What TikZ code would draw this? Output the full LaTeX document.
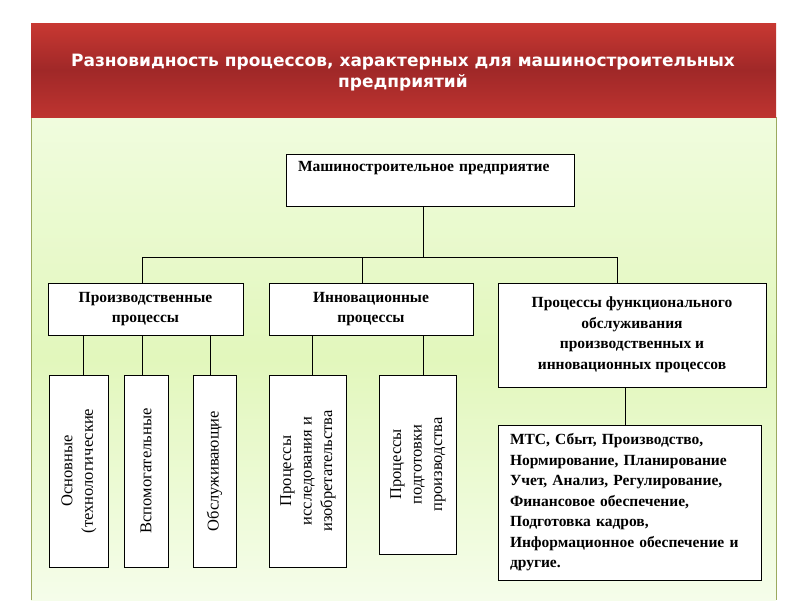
\documentclass[tikz,border=0pt]{standalone}
\usepackage{fontspec}
\usepackage{graphicx}
\setmainfont{Liberation Serif}
\newfontfamily\titlefont{DejaVu Sans}
\definecolor{redtop}{RGB}{200,56,50}
\definecolor{redmid}{RGB}{160,40,40}
\definecolor{redbot}{RGB}{190,52,48}
\definecolor{grtop}{RGB}{240,252,222}
\definecolor{grmid}{RGB}{226,247,188}
\definecolor{grbot}{RGB}{245,253,234}
\definecolor{grline}{RGB}{155,170,95}
\begin{document}
\begin{tikzpicture}[x=1pt,y=-1pt,
  box/.style={draw=black, line width=1pt, fill=white, inner sep=0pt, align=center,
    font=\fontsize{15.5}{20.5}\selectfont\bfseries},
  vbox/.style={draw=black, line width=1pt, fill=white, inner sep=0pt,
    font=\fontsize{16.5}{20.5}\selectfont},
  link/.style={draw=black, line width=1pt}]
\useasboundingbox[fill=white] (0,0) rectangle (800,600);
% header and panel
\shade[top color=grtop, bottom color=grbot, middle color=grmid] (31,117) rectangle (776,600);
\draw[grline, line width=1pt] (31,600) -- (31,117) -- (776,117) -- (776,600);
\shade[top color=redtop, bottom color=redbot, middle color=redmid] (31,23) rectangle (776,117);
\node[font=\titlefont\bfseries\fontsize{17}{21.5}\selectfont, text=white, align=center] (title) at (403,72.5)
  {Разновидность процессов, характерных для машиностроительных\\предприятий};
% boxes
\node[box, minimum width=288, minimum height=52, text width=264, align=left] (top) at (430,180)
  {Машиностроительное предприятие\\\strut};
\node[box, minimum width=195, minimum height=52] (prod) at (145.5,309) {Производственные\\процессы};
\node[box, minimum width=204, minimum height=52] (innov) at (371,309) {Инновационные\\процессы};
\node[box, minimum width=268, minimum height=104] (func) at (632,335)
  {Процессы функционального\\обслуживания\\производственных и\\инновационных процессов};
\node[vbox, minimum width=59, minimum height=192] (b1) at (78.5,471)
  {\rotatebox{90}{\begin{tabular}{@{}c@{}}Основные\\(технологические\end{tabular}}};
\node[vbox, minimum width=44, minimum height=192] (b2) at (146,471)
  {\rotatebox{90}{Вспомогательные}};
\node[vbox, minimum width=43, minimum height=192] (b3) at (214.5,471)
  {\rotatebox{90}{Обслуживающие}};
\node[vbox, minimum width=77, minimum height=192] (i1) at (307.5,471)
  {\rotatebox{90}{\begin{tabular}{@{}c@{}}Процессы\\исследования и\\изобретательства\end{tabular}}};
\node[vbox, minimum width=77, minimum height=179] (i2) at (417.5,464.5)
  {\rotatebox{90}{\begin{tabular}{@{}c@{}}Процессы\\подготовки\\производства\end{tabular}}};
\node[box, minimum width=263, minimum height=155, text width=239, align=left] (mtc) at (629.5,502.5)
  {МТС, Сбыт, Производство,\\Нормирование, Планирование\\Учет, Анализ, Регулирование,\\Финансовое обеспечение,\\Подготовка кадров,\\Информационное обеспечение и\\другие.};
% connectors
\coordinate (jt) at (423,257);
\draw[link] ([xshift=-7pt]top.south) -- (jt);
\draw[link] ([xshift=-3.5pt]prod.north) |- ([xshift=-15pt]func.north |- jt) -- ([xshift=-15pt]func.north);
\draw[link] ([xshift=-9pt]innov.north) -- ([xshift=-9pt]innov.north |- jt);
\draw[link] ([xshift=4.5pt]b1.north) -- ([xshift=4.5pt]b1.north |- prod.south);
\draw[link] ([xshift=-4pt]b2.north) -- ([xshift=-4pt]b2.north |- prod.south);
\draw[link] ([xshift=-4.5pt]b3.north) -- ([xshift=-4.5pt]b3.north |- prod.south);
\draw[link] ([xshift=4.5pt]i1.north) -- ([xshift=4.5pt]i1.north |- innov.south);
\draw[link] ([xshift=5.5pt]i2.north) -- ([xshift=5.5pt]i2.north |- innov.south);
\draw[link] ([xshift=-4pt]mtc.north) -- ([xshift=-4pt]mtc.north |- func.south);
\end{tikzpicture}
\end{document}
